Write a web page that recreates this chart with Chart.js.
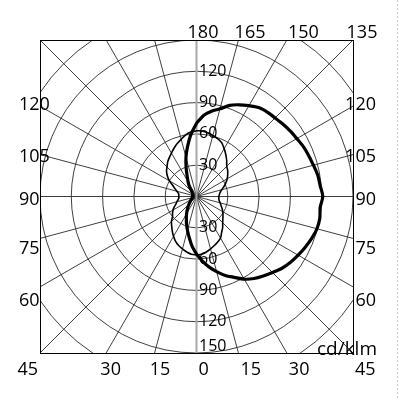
<!DOCTYPE html>
<html><head><meta charset="utf-8">
<script src="https://cdn.jsdelivr.net/npm/chart.js@4/dist/chart.umd.min.js"></script>
<style>html,body{margin:0;padding:0;background:#fff;}canvas{display:block;}</style>
</head><body>
<canvas id="c" width="400" height="400"></canvas>
<script>
// Gamma angles (degrees from nadir) for each half plane
const gammaAngles = [0,5,10,15,20,25,30,35,40,45,50,55,60,65,70,75,80,85,90,95,100,105,110,115,120,125,130,135,140,145,150,155,160,165,170,175,180];
// Thick curve (cd/klm): right half plane, left half plane
const thickRight = [55,62,68.5,74.5,80.5,85.5,91.5,96,99.5,103,107,110,112.5,115,117.5,119.5,120,119,121,119,118,116,114.5,113,111,109.5,108,106.5,105.5,104,100.5,97,93,87,83,78,70];
const thickLeft  = [55,48,40,33.5,28,23,19,15.5,12.5,10,8,7,6,5,4.5,4,4,3.5,3.5,3.5,3.5,4,4,4,4,4.5,5,6,8,12,16,21,29,39,49,60,70];
// Thin curve (cd/klm): right half plane, left half plane
const thinRight = [56,55.5,54,52,50,48,46,42,39,35.5,33,31,29,27,25,23.5,22,21.5,21.5,22,23,25,28,31,34,36.5,39,41,45,49,53,57,59,60.5,62,63,63];
const thinLeft  = [56,55.5,54,52,50,47.5,44,40.5,37,34,30,28,26,23.5,21,19.5,18,17,17,17,17.5,19.5,22,25,30,34,37.5,40,43,45.5,48,51,54,56.7,60,62,63];

const ringValues = [30,60,90,120,150,180];
const spokeAngles = [15,30,45,60,75,90,105,120,135,150,165];
const upperRingLabels = [30,60,90,120];
const lowerRingLabels = [30,60,90,120,150];
const bottomEdgeAngles = [-45,-30,-15,0,15,30,45];
const bottomEdgeLabels = ['45','30','15','0','15','30','45'];
const topEdgeAngles = [180,165,150,135];
const topEdgeLabels = ['180','165','150','135'];
const sideEdgeAngles = [120,105,90,75,60];
const sideEdgeLabels = ['120','105','90','75','60'];
const unitLabel = 'cd/klm';
const rangeMax = 150;

// layout tweaks (label placement only)
const bottomAlign = ['right','center','center','left','left','left','left'];
const bottomDx = [-2,4.5,5.5,2,2,2,2];
const topDx = [6.5,11.6,16.5,9];
const sideDy = [-1.6,2,3.5,10.6,14.5];
const FONT = '"Open Sans", "Liberation Sans", sans-serif';

function toPoints(angles, right, left) {
  const pts = [];
  for (let i = 0; i < angles.length; i++) {
    const a = angles[i] * Math.PI / 180;
    pts.push({x: right[i] * Math.sin(a), y: -right[i] * Math.cos(a)});
  }
  for (let i = angles.length - 1; i >= 0; i--) {
    const a = angles[i] * Math.PI / 180;
    pts.push({x: -left[i] * Math.sin(a), y: -left[i] * Math.cos(a)});
  }
  return pts;
}

const gridPlugin = {
  id: 'polarGrid',
  beforeDatasetsDraw(chart) {
    const {ctx, chartArea: ca, scales: {x, y}} = chart;
    const cx = x.getPixelForValue(0), cy = y.getPixelForValue(0);
    const unit = x.getPixelForValue(1) - cx;
    ctx.save();
    ctx.fillStyle = '#fff';
    ctx.fillRect(0, 0, chart.width, chart.height);
    // dotted page edge
    ctx.strokeStyle = '#c8c8c8'; ctx.lineWidth = 1; ctx.setLineDash([2,2]);
    ctx.beginPath(); ctx.moveTo(397.5, 0); ctx.lineTo(397.5, chart.height); ctx.stroke();
    ctx.setLineDash([]);
    ctx.beginPath(); ctx.rect(ca.left, ca.top, ca.right - ca.left, ca.bottom - ca.top); ctx.clip();
    ctx.strokeStyle = '#2a2a2a'; ctx.lineWidth = 0.9;
    ringValues.forEach(v => {
      ctx.beginPath(); ctx.arc(cx, cy, v * unit, 0, Math.PI * 2); ctx.stroke();
    });
    const far = 400;
    spokeAngles.forEach(g => {
      const a = g * Math.PI / 180;
      [1, -1].forEach(s => {
        ctx.beginPath(); ctx.moveTo(cx, cy);
        ctx.lineTo(cx + s * far * Math.sin(a), cy + far * Math.cos(a)); ctx.stroke();
      });
    });
    ctx.strokeStyle = '#a8a8a8'; ctx.lineWidth = 2;
    ctx.beginPath(); ctx.moveTo(cx, ca.top); ctx.lineTo(cx, ca.bottom); ctx.stroke();
    ctx.restore();
    ctx.save();
    ctx.strokeStyle = '#000'; ctx.lineWidth = 1;
    ctx.strokeRect(Math.round(ca.left) + 0.5, Math.round(ca.top) + 0.5, Math.round(ca.right - ca.left), Math.round(ca.bottom - ca.top));
    // ring labels
    ctx.fillStyle = '#000'; ctx.font = '16px ' + FONT; ctx.textAlign = 'left'; ctx.textBaseline = 'middle';
    upperRingLabels.forEach(v => ctx.fillText(String(v), cx + 2.5, y.getPixelForValue(v)));
    lowerRingLabels.forEach(v => ctx.fillText(String(v), cx + 2.5, Math.min(y.getPixelForValue(-v), ca.bottom - 7)));
    ctx.restore();
  },
  afterDatasetsDraw(chart) {
    const {ctx, chartArea: ca, scales: {x, y}} = chart;
    const cx = x.getPixelForValue(0), cy = y.getPixelForValue(0);
    const half = (ca.right - ca.left) / 2;
    ctx.save();
    ctx.fillStyle = '#000'; ctx.font = '18px ' + FONT; ctx.textBaseline = 'middle';
    bottomEdgeAngles.forEach((g, i) => {
      const xi = cx + half * Math.tan(g * Math.PI / 180);
      ctx.textAlign = bottomAlign[i];
      ctx.fillText(bottomEdgeLabels[i], xi + bottomDx[i], ca.bottom + 17);
    });
    topEdgeAngles.forEach((g, i) => {
      const xi = cx + half * Math.tan((180 - g) * Math.PI / 180);
      ctx.textAlign = 'center';
      ctx.fillText(topEdgeLabels[i], xi + topDx[i], ca.top - 7);
    });
    sideEdgeAngles.forEach((g, i) => {
      const a = g * Math.PI / 180;
      const yi = cy + half * Math.cos(a) / Math.sin(a);
      ctx.textAlign = 'left'; ctx.fillText(sideEdgeLabels[i], 19, yi + sideDy[i]);
      ctx.textAlign = 'right'; ctx.fillText(sideEdgeLabels[i], 376, yi + sideDy[i]);
    });
    ctx.font = '19px ' + FONT; ctx.textAlign = 'right'; ctx.textBaseline = 'alphabetic';
    ctx.fillText(unitLabel, 377, 355);
    ctx.restore();
  }
};

new Chart(document.getElementById('c').getContext('2d'), {
  type: 'scatter',
  data: {datasets: [
    {data: toPoints(gammaAngles, thinRight, thinLeft), showLine: true, borderColor: '#000', borderWidth: 1.6, pointRadius: 0, tension: 0.3, fill: false},
    {data: toPoints(gammaAngles, thickRight, thickLeft), showLine: true, borderColor: '#000', borderWidth: 3.2, pointRadius: 0, tension: 0.3, fill: false}
  ]},
  options: {
    responsive: false, animation: false, events: [],
    layout: {padding: {left: 40, top: 40, right: 47, bottom: 47}},
    scales: {
      x: {type: 'linear', min: -rangeMax, max: rangeMax, display: false},
      y: {type: 'linear', min: -rangeMax, max: rangeMax, display: false}
    },
    plugins: {legend: {display: false}, tooltip: {enabled: false}}
  },
  plugins: [gridPlugin]
});
</script>
</body></html>
